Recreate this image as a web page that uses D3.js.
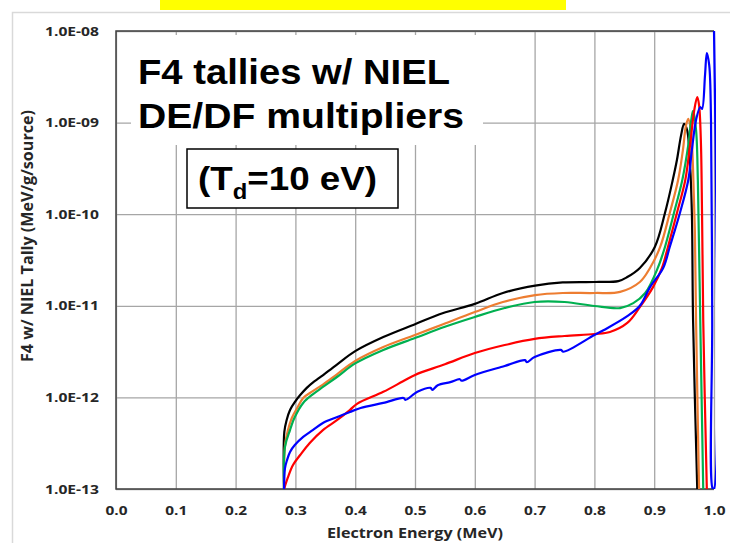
<html>
<head>
<meta charset="utf-8">
<script src="https://d3js.org/d3.v7.min.js"></script>
<style>
  body { margin: 0; background: #fff; }
</style>
</head>
<body>
<svg width="730" height="543"></svg>
<script>
// energy (MeV) vs tally value
const blackSeries = [
  [0.281, 1e-13], [0.2815, 4.2e-13], [0.2855, 5.7e-13], [0.291, 7.3e-13], [0.299, 8.9e-13],
  [0.308, 1.06e-12], [0.319, 1.27e-12], [0.329, 1.45e-12], [0.341, 1.65e-12], [0.37, 2.3e-12],
  [0.4, 3.2e-12], [0.447, 4.56e-12], [0.5, 6.3e-12], [0.546, 8.3e-12], [0.6, 1.05e-11],
  [0.647, 1.38e-11], [0.701, 1.66e-11], [0.747, 1.8e-11], [0.801, 1.82e-11], [0.84, 1.86e-11],
  [0.855, 2.06e-11], [0.876, 2.59e-11], [0.901, 4.39e-11], [0.918, 1.03e-10], [0.931, 2.36e-10],
  [0.938, 3.9e-10], [0.945, 7.3e-10], [0.95, 9.7e-10], [0.955, 8.3e-10], [0.96, 3.44e-10],
  [0.963, 1.03e-10], [0.965, 7e-12], [0.972, 1e-13]
];
const orangeSeries = [
  [0.281, 1e-13], [0.2826, 3.0e-13], [0.2876, 4.4e-13], [0.294, 5.96e-13], [0.303, 7.66e-13],
  [0.313, 9.85e-13], [0.329, 1.17e-12], [0.346, 1.38e-12], [0.37, 1.8e-12], [0.4, 2.5e-12],
  [0.447, 3.55e-12], [0.5, 4.8e-12], [0.547, 6.3e-12], [0.6, 8.55e-12], [0.647, 1.1e-11],
  [0.701, 1.31e-11], [0.747, 1.38e-11], [0.801, 1.38e-11], [0.843, 1.42e-11], [0.876, 1.82e-11],
  [0.893, 2.59e-11], [0.91, 4.39e-11], [0.926, 1.03e-10], [0.94, 2.36e-10], [0.948, 5.0e-10],
  [0.953, 9.2e-10], [0.957, 1.1e-9], [0.962, 7.3e-10], [0.965, 3.04e-10], [0.968, 6.7e-11],
  [0.97, 7e-12], [0.975, 1e-13]
];
const greenSeries = [
  [0.281, 1e-13], [0.2826, 2.88e-13], [0.291, 4.4e-13], [0.299, 6.1e-13], [0.313, 8.7e-13],
  [0.329, 1.08e-12], [0.346, 1.3e-12], [0.37, 1.68e-12], [0.4, 2.35e-12], [0.447, 3.3e-12],
  [0.5, 4.45e-12], [0.55, 5.9e-12], [0.6, 7.55e-12], [0.65, 9.45e-12], [0.7, 1.1e-11],
  [0.75, 1.1e-11], [0.8, 9.95e-12], [0.843, 9.45e-12], [0.865, 1.07e-11], [0.885, 1.38e-11],
  [0.906, 2.59e-11], [0.918, 4.39e-11], [0.933, 1.03e-10], [0.947, 2.36e-10], [0.957, 5.7e-10],
  [0.962, 1.07e-9], [0.965, 1.34e-9], [0.97, 8.3e-10], [0.973, 2.36e-10], [0.977, 7e-12],
  [0.982, 1e-13]
];
const redSeries = [
  [0.281, 1e-13], [0.2876, 1.35e-13], [0.296, 1.83e-13], [0.308, 2.35e-13], [0.324, 3.18e-13],
  [0.346, 4.4e-13], [0.37, 5.67e-13], [0.391, 7.28e-13], [0.403, 8.5e-13], [0.447, 1.15e-12],
  [0.48, 1.5e-12], [0.5, 1.76e-12], [0.55, 2.3e-12], [0.6, 3.05e-12], [0.65, 3.73e-12],
  [0.7, 4.35e-12], [0.75, 4.68e-12], [0.8, 4.92e-12], [0.826, 5.18e-12], [0.855, 6.5e-12],
  [0.876, 9.7e-12], [0.898, 1.6e-11], [0.913, 2.59e-11], [0.923, 4.39e-11], [0.938, 1.03e-10],
  [0.952, 2.36e-10], [0.96, 5.7e-10], [0.967, 1.37e-9], [0.972, 1.9e-9], [0.975, 1.56e-9],
  [0.978, 6.46e-10], [0.98, 1.03e-10], [0.982, 7e-12], [0.988, 1e-13]
];
const blueSeries = [
  [0.281, 1e-13], [0.2826, 1.69e-13], [0.286, 2.07e-13], [0.291, 2.54e-13], [0.299, 3.02e-13],
  [0.313, 3.7e-13], [0.329, 4.4e-13], [0.346, 5.26e-13], [0.37, 6.1e-13], [0.391, 6.93e-13],
  [0.409, 7.66e-13], [0.447, 8.7e-13], [0.481, 9.85e-13], [0.484, 9.4e-13], [0.504, 1.15e-12],
  [0.526, 1.27e-12], [0.529, 1.21e-12], [0.538, 1.36e-12], [0.559, 1.47e-12], [0.575, 1.58e-12],
  [0.578, 1.52e-12], [0.6, 1.76e-12], [0.65, 2.2e-12], [0.684, 2.55e-12], [0.687, 2.42e-12],
  [0.7, 2.76e-12], [0.744, 3.3e-12], [0.748, 3.15e-12], [0.8, 4.8e-12], [0.816, 5.44e-12],
  [0.855, 7.7e-12], [0.876, 1.0e-11], [0.893, 1.6e-11], [0.915, 2.59e-11], [0.926, 4.39e-11],
  [0.943, 1.03e-10], [0.957, 2.36e-10], [0.963, 5.0e-10], [0.97, 1.07e-9], [0.977, 1.48e-9],
  [0.98, 1.41e-9], [0.985, 3.3e-9], [0.988, 5.75e-9], [0.992, 4.25e-9], [0.995, 1.07e-9],
  [0.997, 7e-12], [0.998, 1e-13], [1.0, 1e-13], [1.0, 1e-8]
];

const seriesList = [
  { data: blackSeries, color: '#000000' },
  { data: orangeSeries, color: '#ED7D31' },
  { data: greenSeries, color: '#00B050' },
  { data: redSeries, color: '#FF0000' },
  { data: blueSeries, color: '#0000FF' }
];

const xTicks = [0, 0.1, 0.2, 0.3, 0.4, 0.5, 0.6, 0.7, 0.8, 0.9, 1.0];
const yTicks = [1e-13, 1e-12, 1e-11, 1e-10, 1e-9, 1e-8];
const yTickLabels = ['1.0E-13', '1.0E-12', '1.0E-11', '1.0E-10', '1.0E-09', '1.0E-08'];

const xTitle = 'Electron Energy (MeV)';
const yTitle = 'F4 w/ NIEL Tally (MeV/g/source)';
const titleLines = ['F4 tallies w/ NIEL', 'DE/DF multipliers'];

const plotL = 116, plotR = 714, plotT = 31, plotB = 489;

var svg = d3.select('svg');

// yellow strip at the top of the slide
svg.append('rect')
    .attr('x', 160).attr('y', 0).attr('width', 406).attr('height', 10)
    .attr('fill', '#FFFF00');

// outer chart border
svg.append('rect')
    .attr('x', 12.5).attr('y', 12.5).attr('width', 740).attr('height', 560)
    .attr('fill', 'none').attr('stroke', '#d9d9d9').attr('stroke-width', 1.5);

var x = d3.scaleLinear().domain([0, 1]).range([plotL, plotR]);
var y = d3.scaleLog().domain([1e-13, 1e-8]).range([plotB, plotT]);

// gridlines
svg.append('g')
    .attr('transform', 'translate(0,' + plotB + ')')
    .call(d3.axisBottom(x).tickValues(xTicks).tickSize(-(plotB - plotT)).tickFormat(''))
    .call(g => g.select('.domain').remove())
    .selectAll('line').attr('stroke', '#a6a6a6').attr('stroke-width', 1.3);

svg.append('g')
    .attr('transform', 'translate(' + plotL + ',0)')
    .call(d3.axisLeft(y).tickValues(yTicks).tickSize(-(plotR - plotL)).tickFormat(''))
    .call(g => g.select('.domain').remove())
    .selectAll('line').attr('stroke', '#a6a6a6').attr('stroke-width', 1.3);

// frame
svg.append('path')
    .attr('d', 'M' + plotR + ',' + plotT + 'H' + plotL + 'V' + plotB + 'H' + plotR)
    .attr('fill', 'none').attr('stroke', '#404040').attr('stroke-width', 1.5);

// tick labels (slightly stretched, like the slide)
svg.append('g')
    .attr('transform', 'translate(0,' + plotB + ')')
    .call(d3.axisBottom(x).tickValues(xTicks).tickSize(0).tickPadding(17).tickFormat(d3.format('.1f')))
    .call(g => g.select('.domain').remove())
    .selectAll('text')
    .attr('font-family', 'Open Sans').attr('font-weight', 700).attr('font-size', 13).attr('fill', '#262626')
    .attr('textLength', 22).attr('lengthAdjust', 'spacingAndGlyphs');

svg.append('g')
    .attr('transform', 'translate(' + plotL + ',0)')
    .call(d3.axisLeft(y).tickValues(yTicks).tickSize(0).tickPadding(17)
        .tickFormat((d, i) => yTickLabels[i]))
    .call(g => g.select('.domain').remove())
    .selectAll('text')
    .attr('font-family', 'Open Sans').attr('font-weight', 700).attr('font-size', 12.5).attr('fill', '#262626')
    .attr('textLength', 54).attr('lengthAdjust', 'spacingAndGlyphs');

// axis titles
svg.append('text')
    .attr('x', 415).attr('y', 538)
    .attr('text-anchor', 'middle')
    .attr('font-family', 'Open Sans').attr('font-weight', 700).attr('font-size', 15).attr('fill', '#262626')
    .attr('textLength', 176).attr('lengthAdjust', 'spacingAndGlyphs')
    .text(xTitle);

svg.append('text')
    .attr('transform', 'translate(33,236) rotate(-90)')
    .attr('text-anchor', 'middle')
    .attr('font-family', 'Open Sans').attr('font-weight', 700).attr('font-size', 15.5).attr('fill', '#262626')
    .attr('textLength', 252).attr('lengthAdjust', 'spacingAndGlyphs')
    .text(yTitle);

// curves
svg.append('clipPath').attr('id', 'plotclip')
    .append('rect').attr('x', plotL).attr('y', plotT - 1).attr('width', plotR - plotL + 2).attr('height', plotB - plotT + 1);

var line = d3.line()
    .x(d => x(d[0]))
    .y(d => y(d[1]))
    .curve(d3.curveCatmullRom.alpha(0.5));

svg.append('g').attr('clip-path', 'url(#plotclip)')
    .selectAll('path')
    .data(seriesList)
    .enter()
    .append('path')
    .attr('d', d => line(d.data))
    .attr('fill', 'none')
    .attr('stroke', d => d.color)
    .attr('stroke-width', 2.2)
    .attr('stroke-linejoin', 'round');

// title block with white background
svg.append('rect')
    .attr('x', 131).attr('y', 35).attr('width', 352).attr('height', 110)
    .attr('fill', '#fff');

svg.selectAll('.title')
    .data(titleLines)
    .enter()
    .append('text')
    .attr('class', 'title')
    .attr('x', 138)
    .attr('y', (d, i) => 84 + i * 44)
    .attr('font-family', 'Liberation Sans, Arial, sans-serif')
    .attr('font-weight', 'bold')
    .attr('font-size', 35)
    .attr('fill', '#000')
    .attr('textLength', (d, i) => i === 0 ? 312 : 326)
    .attr('lengthAdjust', 'spacingAndGlyphs')
    .text(d => d);

svg.append('rect')
    .attr('x', 187).attr('y', 149).attr('width', 211).attr('height', 59)
    .attr('fill', '#fff').attr('stroke', '#000').attr('stroke-width', 1.5);

var td = svg.append('text')
    .attr('x', 198).attr('y', 190)
    .attr('font-family', 'Liberation Sans, Arial, sans-serif')
    .attr('font-weight', 'bold')
    .attr('font-size', 34)
    .attr('fill', '#000')
    .attr('textLength', 179)
    .attr('lengthAdjust', 'spacingAndGlyphs');
td.append('tspan').text('(T');
td.append('tspan').attr('dy', 9).attr('font-size', 22).text('d');
td.append('tspan').attr('dy', -9).text('=10 eV)');
</script>
</body>
</html>
